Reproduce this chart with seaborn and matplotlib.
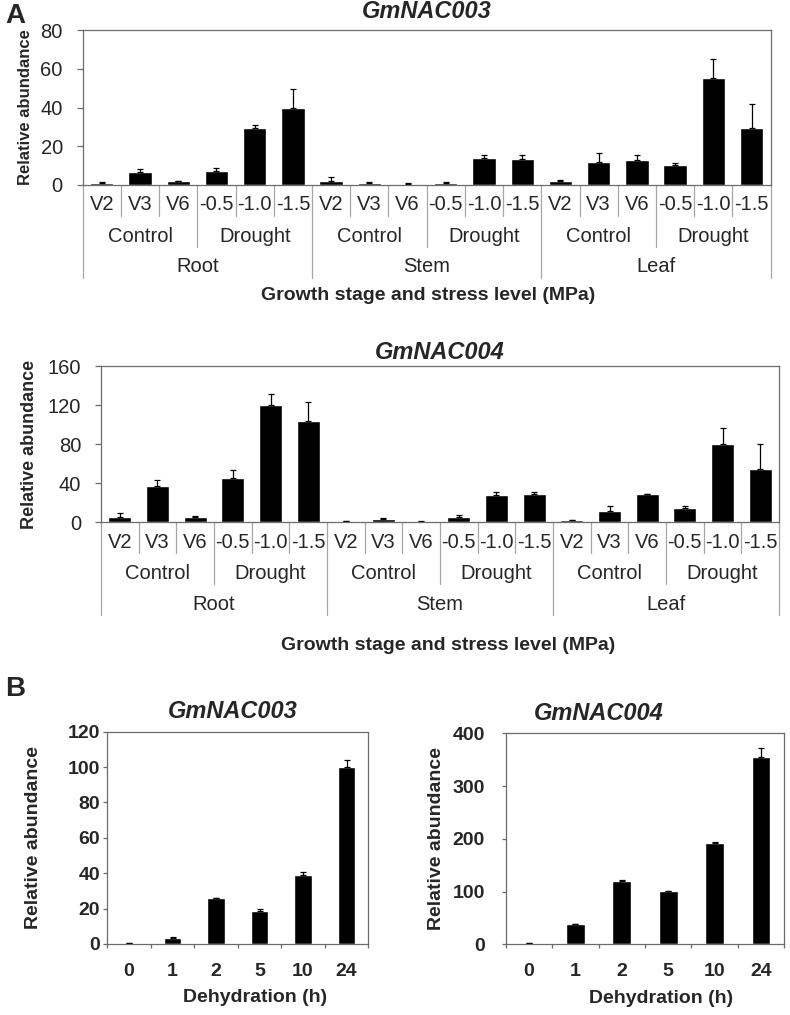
import matplotlib.pyplot as plt
import numpy as np
import pandas as pd
import seaborn as sns

sns.set_style('ticks')
plt.rcParams['font.family'] = ['Liberation Sans', 'DejaVu Sans']

W, H = 790, 1015
FRAME = '#6b6b6b'
SEP = '#a6a6a6'

# Panel A data (18 bars: organ x condition x stage)
stage_labels = ['V2', 'V3', 'V6', '-0.5', '-1.0', '-1.5'] * 3
conditions = ['Control', 'Drought'] * 3
organs = ['Root', 'Stem', 'Leaf']

nac003_vals = [1.0, 6.5, 1.9, 7.2, 29.3, 40.0, 1.9, 1.2, 0.7, 0.9, 14.1, 13.6, 2.1, 11.7, 13.1, 10.3, 55.2, 29.3]
nac003_err = [0.3, 1.6, 0.3, 1.6, 1.5, 9.7, 2.2, 0.4, 0.2, 0.5, 1.4, 1.7, 0.3, 5.0, 2.2, 1.1, 9.8, 12.4]
nac004_vals = [5.3, 36.9, 5.1, 45.7, 120.5, 104.0, 1.4, 3.4, 0.7, 5.8, 27.6, 28.7, 2.4, 11.3, 28.7, 15.0, 80.5, 54.3]
nac004_err = [4.0, 6.1, 1.0, 7.9, 10.5, 18.8, 0.4, 0.7, 0.2, 1.7, 3.8, 2.7, 0.3, 5.4, 0.3, 1.4, 16.0, 26.0]

# Panel B data (dehydration time course)
hours = ['0', '1', '2', '5', '10', '24']
dehyd003_vals = [0.6, 3.6, 26.0, 18.8, 38.8, 99.8]
dehyd003_err = [0.1, 0.4, 0.2, 0.8, 1.7, 4.3]
dehyd004_vals = [1.9, 37.9, 120.7, 100.5, 192.0, 355.0]
dehyd004_err = [0.3, 0.5, 0.8, 0.5, 1.0, 17.6]


def px_axes(fig, left, top, right, bottom):
    return fig.add_axes([left / W, 1 - bottom / H, (right - left) / W, (bottom - top) / H])


def style_frame(ax):
    for s in ax.spines.values():
        s.set_visible(True)
        s.set_color(FRAME)
        s.set_linewidth(0.9)


def draw_stage_panel(fig, box, vals, errs, ymax, ystep, title, title_dy, ylab_x, ylab_size, xlab_x, xlab_dy):
    l, t, r, b = box
    w, h = r - l, b - t
    ax = px_axes(fig, l, t, r, b)
    n = len(vals)
    df = pd.DataFrame({'pos': range(n), 'value': vals})
    sns.barplot(data=df, x='pos', y='value', color='black', saturation=1,
                width=0.61, errorbar=None, ax=ax)
    ax.errorbar(df['pos'], df['value'], yerr=[np.zeros(n), errs], fmt='none',
                ecolor='black', elinewidth=0.9, capsize=2.5, capthick=0.9)
    ax.set_xlim(-0.5, n - 0.5)
    ax.set_ylim(0, ymax)
    ax.set_yticks(np.arange(0, ymax + 1, ystep))
    ax.set_xticks([])
    ax.tick_params(axis='y', length=4.3, width=0.9, color=FRAME, labelsize=14.5, pad=10)
    ax.set_xlabel('')
    ax.set_ylabel('Relative abundance', fontsize=ylab_size, fontweight='bold', va='center')
    ax.yaxis.set_label_coords((ylab_x - l) / w, 0.5)
    style_frame(ax)

    # multi-level category axis
    trans = ax.get_xaxis_transform()
    for k in range(n + 1):
        if k % 6 == 0:
            depth = 93
        elif k % 3 == 0:
            depth = 62
        else:
            depth = 31
        ax.plot([k - 0.5, k - 0.5], [0, -depth / h], transform=trans,
                clip_on=False, color=SEP, lw=0.9)
    for i, s in enumerate(stage_labels):
        ax.text(i, -20 / h, s, transform=trans, ha='center', va='center', fontsize=14.5)
    for j, c in enumerate(conditions):
        ax.text(3 * j + 1, -51 / h, c, transform=trans, ha='center', va='center', fontsize=14.5)
    for k, o in enumerate(organs):
        ax.text(6 * k + 2.5, -82 / h, o, transform=trans, ha='center', va='center', fontsize=14.5)

    ax.text((xlab_x - l) / w, -xlab_dy / h, 'Growth stage and stress level (MPa)',
            transform=ax.transAxes, ha='center', va='center', fontsize=14, fontweight='bold')
    ax.text(0.5, 1 + title_dy / h, title, transform=ax.transAxes, ha='center', va='center',
            fontsize=17, fontweight='bold', fontstyle='italic')
    return ax


def draw_dehyd_panel(fig, box, vals, errs, ymax, ystep, title, title_x, ylab_x, xlab_x, ypad):
    l, t, r, b = box
    w, h = r - l, b - t
    ax = px_axes(fig, l, t, r, b)
    n = len(vals)
    df = pd.DataFrame({'hour': hours, 'value': vals})
    sns.barplot(data=df, x='hour', y='value', order=hours, color='black', saturation=1,
                width=0.4, errorbar=None, ax=ax)
    ax.errorbar(range(n), df['value'], yerr=[np.zeros(n), errs], fmt='none',
                ecolor='black', elinewidth=0.9, capsize=2.5, capthick=0.9)
    ax.set_xlim(-0.5, n - 0.5)
    ax.set_ylim(0, ymax)
    ax.set_yticks(np.arange(0, ymax + 1, ystep))
    ax.set_xticks(np.arange(-0.5, n, 1), minor=True)
    ax.tick_params(axis='x', which='major', length=0, labelsize=14, pad=13.5)
    ax.tick_params(axis='x', which='minor', length=3, width=0.9, color=FRAME)
    ax.tick_params(axis='y', length=3, width=0.9, color=FRAME, labelsize=14, pad=ypad)
    for lab in ax.get_xticklabels() + ax.get_yticklabels():
        lab.set_fontweight('bold')
    ax.set_xlabel('Dehydration (h)', fontsize=14, fontweight='bold', va='center')
    ax.xaxis.set_label_coords((xlab_x - l) / w, -54 / h)
    ax.set_ylabel('Relative abundance', fontsize=14, fontweight='bold', va='center')
    ax.yaxis.set_label_coords((ylab_x - l) / w, 0.5)
    style_frame(ax)
    ax.text((title_x - l) / w, 1 + 20 / h, title, transform=ax.transAxes, ha='center',
            va='center', fontsize=17, fontweight='bold', fontstyle='italic')
    return ax


fig = plt.figure(figsize=(W / 100, H / 100), dpi=100)

draw_stage_panel(fig, (82.7, 30, 770.7, 185), nac003_vals, nac003_err, 80, 20,
                 'GmNAC003', 18, 25, 12, 428, 110)
draw_stage_panel(fig, (101, 366, 779, 522.3), nac004_vals, nac004_err, 160, 40,
                 'GmNAC004', 14, 30, 13, 448, 123)

draw_dehyd_panel(fig, (107.3, 731.7, 368.3, 944), dehyd003_vals, dehyd003_err, 120, 20,
                 'GmNAC003', 233, 33, 255, 2)
draw_dehyd_panel(fig, (505.7, 733.3, 784.3, 944.3), dehyd004_vals, dehyd004_err, 400, 100,
                 'GmNAC004', 599, 436.7, 660.7, 12)

fig.text(15.5 / W, 1 - 16 / H, 'A', ha='center', va='center', fontsize=20, fontweight='bold')
fig.text(15.5 / W, 1 - 689 / H, 'B', ha='center', va='center', fontsize=20, fontweight='bold')

fig.savefig('out.png', dpi=100)
